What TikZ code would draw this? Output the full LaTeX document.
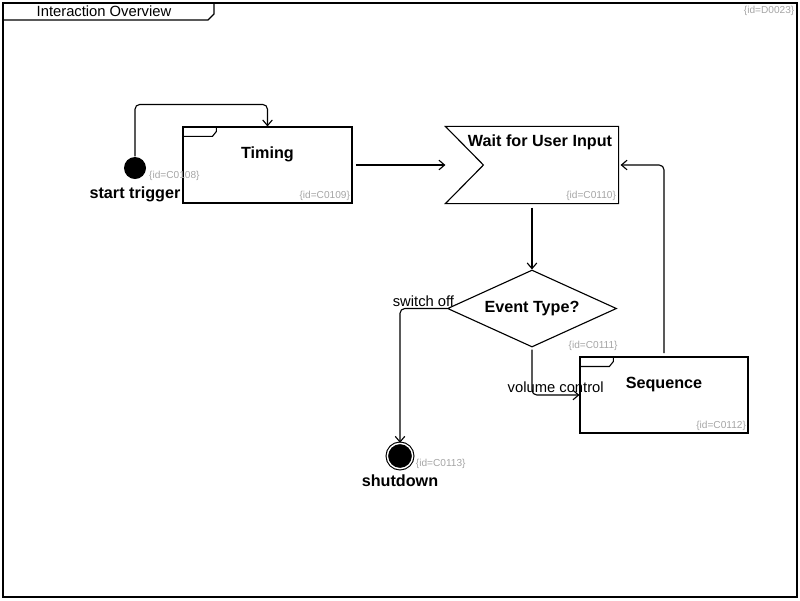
\documentclass[tikz,border=0pt]{standalone}
\usepackage{fontspec}
\setmainfont{Liberation Sans}
\usetikzlibrary{shapes.geometric,arrows.meta}
\definecolor{idgray}{RGB}{165,165,165}

\begin{document}
\begin{tikzpicture}[x=0.025cm,y=-0.025cm,line width=0.8pt,
    >={Straight Barb[length=1.4mm,width=2.4mm]},
    flow/.style={->,rounded corners=1.2mm},
    action/.style={draw,minimum width=4.225cm,minimum height=1.9cm,inner sep=0pt},
    nodetitle/.style={font=\fontsize{11.5}{13}\selectfont\bfseries,inner sep=2pt},
    guard/.style={font=\fontsize{10.5}{12}\selectfont,inner sep=1pt},
    idtag/.style={font=\fontsize{7.2}{8}\selectfont,text=idgray,inner sep=1.5pt},
    startdot/.style={circle,fill=black,minimum size=0.55cm,inner sep=0pt},
    enddot/.style={circle,fill=black,draw=black,double=white,double distance=1pt,minimum size=18pt,inner sep=0pt}]
  % \draw[help lines](0,0) grid[step=50] (800,600);
  \useasboundingbox (0,0) rectangle (800,600);

  % frame
  \draw (3,3) rectangle (797,597);
  \draw (3,20) -- (208,20) -- (214,14) -- (214,3);
  \node[font=\fontsize{10.5}{12}\selectfont] (frametitle) at (104,11.5) {Interaction Overview};
  \node[idtag,anchor=north east] (diagid) at (797,3) {\{id=D0023\}};

  \node[startdot] (init) at (135,168) {};
  \node[action] (timing) at (267.5,165) {};
  \node[action,draw=none,minimum width=4.3cm] (wait) at (532,165) {};
  \node[diamond,draw,aspect=2.2,inner sep=0pt,minimum width=4.225cm,minimum height=1.925cm,
        font=\fontsize{11.5}{13}\selectfont\bfseries] (event) at (532,308.5) {Event Type?};
  \node[action,minimum width=4.2cm] (seq) at (664,395) {};
  \node[enddot] (final) at (400,456) {};

  \draw (wait.north west) -- (wait.north east) -- (wait.south east) -- (wait.south west)
    -- ([xshift=0.95cm]wait.west) -- cycle;
  \foreach \n in {timing,seq}
    \draw (\n.north west) ++(34,0) -- ++(0,5) -- ++(-4,5) -- ++(-30,0);

  \node[nodetitle,anchor=north,yshift=-0.1cm] (startlbl) at (init.south) {start trigger};
  \node[nodetitle] (timingname) at ([yshift=-0.7cm]timing.north) {Timing};
  \node[nodetitle] (waitname) at ([xshift=0.2cm,yshift=-0.4cm]wait.north) {Wait for User Input};
  \node[nodetitle] (seqname) at ([yshift=-0.7cm]seq.north) {Sequence};
  \node[nodetitle,anchor=north,yshift=-0.05cm] (endlbl) at (final.south) {shutdown};

  \node[idtag,anchor=north west] (initid) at (init.east) {\{id=C0108\}};
  \node[idtag,anchor=south east] (timingid) at (timing.south east) {\{id=C0109\}};
  \node[idtag,anchor=south east] (waitid) at (wait.south east) {\{id=C0110\}};
  \node[idtag,anchor=east,xshift=0.08cm,yshift=0.05cm] (eventid) at (event.south -| event.east) {\{id=C0111\}};
  \node[idtag,anchor=south east] (seqid) at (seq.south east) {\{id=C0112\}};
  \node[idtag,anchor=north west] (finalid) at (final.east) {\{id=C0113\}};

  \draw[flow] (init.north) -- ++(0,-52) -| (timing.north);
  \draw[->,shorten <=0.08cm] (timing.east) -- (wait.west);
  \draw[->,shorten <=0.1cm] (wait.south) -- (event.north);
  \draw[flow] (event.west) -| (final.north) node[guard,pos=0.25,above] (swoff) {switch off};
  \draw[flow,shorten <=0.05cm] (event.south) |- (seq.west) node[guard,pos=0.75,above] (volctl) {volume control};
  \draw[flow,shorten <=0.08cm,shorten >=0.05cm] (seq.north) |- (wait.east);
\end{tikzpicture}
\end{document}
